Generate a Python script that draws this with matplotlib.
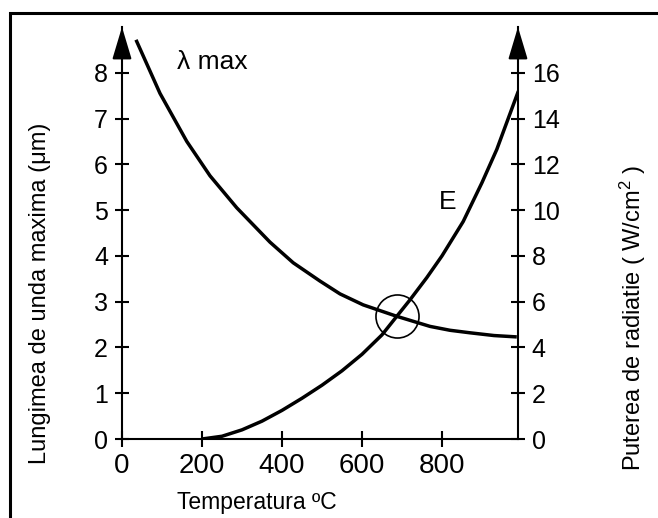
import matplotlib
matplotlib.use('Agg')
import matplotlib.pyplot as plt
from matplotlib.patches import Rectangle

plt.rcParams['font.family'] = ['Liberation Sans', 'DejaVu Sans']
plt.rcParams['mathtext.fontset'] = 'custom'
plt.rcParams['mathtext.rm'] = 'Liberation Sans'
plt.rcParams['mathtext.it'] = 'Liberation Sans'

# lambda max curve (left axis, um) vs temperature (C)
lambda_temp = [35, 95, 162, 220, 287, 370, 428, 495, 545, 603, 687, 770, 820, 870, 930, 987]
lambda_max = [8.72, 7.55, 6.5, 5.75, 5.05, 4.3, 3.85, 3.45, 3.17, 2.93, 2.68, 2.46, 2.375,
              2.32, 2.26, 2.23]

# radiated power E (right axis, W/cm2) vs temperature (C)
e_temp = [200, 250, 300, 350, 400, 450, 500, 550, 600, 650, 687, 720, 762, 800, 853, 900,
          937, 991]
e_power = [0, 0.12, 0.4, 0.78, 1.25, 1.78, 2.35, 2.98, 3.7, 4.55, 5.36, 6.08, 7.05, 8.0,
           9.5, 11.2, 12.65, 15.2]

# crossing point marked with a circle
cross_temp, cross_lambda = 687, 2.68

x_ticks = [0, 200, 400, 600, 800]
left_ticks = [0, 1, 2, 3, 4, 5, 6, 7, 8]
right_ticks = [0, 2, 4, 6, 8, 10, 12, 14, 16]

fig = plt.figure(figsize=(6.58, 5.18), dpi=100)
ax = fig.add_axes([0.1854, 0.1525, 0.6018, 0.7954])
ax2 = ax.twinx()

ax.plot(lambda_temp, lambda_max, color='black', lw=2.5, solid_capstyle='butt',
        solid_joinstyle='round')
ax2.plot(e_temp, e_power, color='black', lw=2.5, solid_capstyle='butt',
         solid_joinstyle='round')
ax.plot(cross_temp, cross_lambda, 'o', ms=31, mfc='none', mec='black', mew=1.2)

ax.set_xlim(0, 990)
ax.set_ylim(0, 9)
ax2.set_ylim(0, 18)
ax.set_xticks(x_ticks)
ax.set_yticks(left_ticks)
ax2.set_yticks(right_ticks)

for a in (ax, ax2):
    a.spines['top'].set_visible(False)
    for s in a.spines.values():
        s.set_linewidth(1.5)
ax.spines['right'].set_visible(False)
ax2.spines['left'].set_visible(False)
ax2.spines['bottom'].set_visible(False)

ax.tick_params(axis='y', direction='inout', length=10, width=1.5, labelsize=18, pad=5)
ax.tick_params(axis='x', direction='inout', length=12, width=1.5, labelsize=20, pad=4)
ax2.tick_params(axis='y', direction='inout', length=10, width=1.5, labelsize=18, pad=5)

# arrow heads on top of both vertical axes
for xa in (0, 1):
    ax.annotate('', xy=(xa, 1.0), xytext=(xa, 0.94), xycoords='axes fraction',
                arrowprops=dict(arrowstyle='-|>,head_length=1.0,head_width=0.3',
                                mutation_scale=20, color='black', lw=1.5,
                                shrinkA=0, shrinkB=0))

ax.text(137, 8.24, '\u03bb max', fontsize=19, ha='left', va='center')
ax.text(815, 5.18, 'E', fontsize=19, ha='center', va='center')

fig.text(257 / 658, 1 - 503 / 518, 'Temperatura \u00baC', fontsize=16.5, ha='center', va='center')
fig.text(40 / 658, 1 - 293 / 518, 'Lungimea de unda maxima (\u03bcm)', fontsize=17,
         rotation=90, ha='center', va='center')
fig.text(633 / 658, 1 - 318 / 518, 'Puterea de radiatie ( W/cm$^{2}$ )', fontsize=17,
         rotation=90, ha='center', va='center')

# frame around the whole picture (bottom and right fall outside the image)
fig.patches.append(Rectangle((10 / 658, -0.1), 1.0, 1.1 - 13 / 518,
                             transform=fig.transFigure, fill=False, lw=2.2,
                             edgecolor='black'))

fig.savefig('out.png', dpi=100)
